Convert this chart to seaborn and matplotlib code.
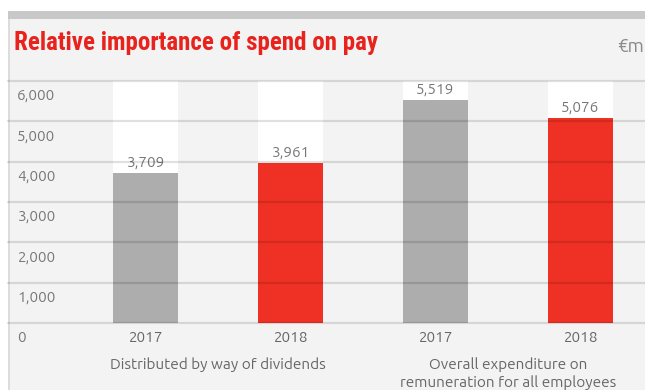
import matplotlib
matplotlib.use("Agg")
import matplotlib.pyplot as plt
from matplotlib.patches import Rectangle
import seaborn as sns
import pandas as pd

# Data (EUR millions)
groups = ["Distributed by way of dividends",
          "Overall expenditure on\nremuneration for all employees"]
years = ["2017", "2018", "2017", "2018"]
values = [3709, 3961, 5519, 5076]
bar_colors = ["#adadad", "#ee3124", "#adadad", "#ee3124"]
yticks = [0, 1000, 2000, 3000, 4000, 5000, 6000]
ytick_labels = ["0", "1,000", "2,000", "3,000", "4,000", "5,000", "6,000"]
title = "Relative importance of spend on pay"
unit = "€m"

sns.set_theme(style="white")
plt.rcParams["font.family"] = ["Ubuntu", "Lato", "DejaVu Sans"]
title_family = ["Roboto Condensed", "DejaVu Sans"]

W, H = 645, 390
fig = plt.figure(figsize=(W / 100, H / 100), dpi=100, facecolor="white")

def px(x0, y0, w, h):
    return [x0 / W, 1 - (y0 + h) / H, w / W, h / H]

# panel background, top strip and left border
fig.patches.append(Rectangle((8 / W, 0), 1, 1 - 19 / H, transform=fig.transFigure,
                             facecolor="#f3f3f3", edgecolor="none", zorder=-10))
fig.patches.append(Rectangle((8 / W, 1 - 19 / H), 1, 8 / H, transform=fig.transFigure,
                             facecolor="#c8c8c8", edgecolor="none", zorder=-10))
fig.patches.append(Rectangle((8 / W, 0), 1.5 / W, 1 - 19 / H, transform=fig.transFigure,
                             facecolor="#dcdcdc", edgecolor="none", zorder=-9))

fig.text(14 / W, 1 - 50 / H, title, color="#e8231d", fontsize=18, fontweight="bold",
         family=title_family, ha="left", va="baseline")
fig.text(617 / W, 1 - 52 / H, unit, color="#8a8a8a", fontsize=13.5, ha="left",
         va="baseline", fontweight="light")

ax = fig.add_axes(px(8, 81, 637, 242))
ax.set_facecolor("none")

df = pd.DataFrame({"pos": list(range(len(values))), "value": values, "year": years})
spacing = 145.0
bar_w = 65 / spacing
ax.set_xlim(-137.5 / spacing, -137.5 / spacing + 637 / spacing)
ax.set_ylim(yticks[0], yticks[-1])

# white slots behind each bar
ax.bar(df["pos"], [yticks[-1]] * len(values), width=bar_w, color="white", zorder=1)

sns.barplot(data=df, x="pos", y="value", hue="pos", palette=bar_colors,
            native_scale=True, width=bar_w, legend=False, ax=ax, zorder=2,
            saturation=1)
for p in ax.patches:
    p.set_edgecolor("none")

# gridlines over bars
for v in yticks:
    ax.axhline(v, color=(0, 0, 0, 0.12), lw=1.6, zorder=5, clip_on=False)

text_color = "#777777"
for v, lab in zip(yticks, ytick_labels):
    ax.annotate(lab, xy=(0, v), xycoords=("axes fraction", "data"),
                xytext=(9, -7), textcoords="offset pixels",
                ha="left", va="top", fontsize=11, color=text_color, fontweight="light")

for x, v in zip(df["pos"], df["value"]):
    ax.annotate(f"{v:,}", xy=(x, v), xytext=(0, 4), textcoords="offset pixels",
                ha="center", va="bottom", fontsize=11, color=text_color, fontweight="light")
    ax.annotate(years[x], xy=(x, 0), xytext=(0, -7), textcoords="offset pixels",
                ha="center", va="top", fontsize=11, color="#666666", fontweight="light")

for gi, g in enumerate(groups):
    cx = (2 * gi + 2 * gi + 1) / 2
    ax.annotate(g, xy=(cx, 0), xytext=(0, -34), textcoords="offset pixels",
                ha="center", va="top", fontsize=11, color="#666666", fontweight="light",
                linespacing=1.25, annotation_clip=False)

ax.set_xticks([])
ax.set_yticks([])
ax.set_xlabel("")
ax.set_ylabel("")
for s in ax.spines.values():
    s.set_visible(False)

fig.savefig("out.png", dpi=100, facecolor="white")
